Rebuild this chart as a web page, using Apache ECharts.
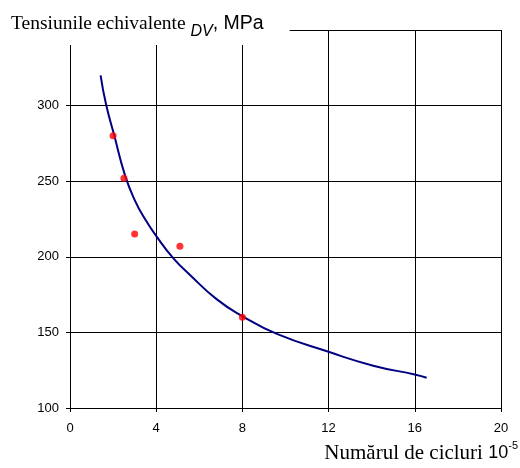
<!DOCTYPE html>
<html lang="ro">

<head>
	<meta charset="UTF-8">
	<title>tensiuni echivalente</title>
	<script src="https://cdn.jsdelivr.net/npm/echarts@6/dist/echarts.min.js"></script>
	<style>
		html, body {
			margin: 0;
			padding: 0;
			background: #fff;
		}

		#chart {
			width: 520px;
			height: 468px;
		}
	</style>
</head>

<body>
	<div id="chart"></div>
	<script>
		// puncte experimentale (numar cicluri x 10^5, tensiune MPa)
		var pointCycles = [2.0, 2.5, 3.0, 5.1, 8.0]
		var pointStress = [280, 252, 215, 207, 160]

		// curba de tendinta
		var curveCycles = [1.42, 1.67, 2.04, 2.55, 3.02, 3.48, 4.04, 4.8, 5.57, 6.8, 7.97, 9.6, 12.03, 14.07, 16.04, 16.55]
		var curveStress = [320, 301, 281, 254, 237, 225, 213, 199, 188, 172, 161, 149, 137, 128, 122, 120]

		var xTicks = [0, 4, 8, 12, 16, 20]
		var yTicks = [100, 150, 200, 250, 300]

		var sans = 'Liberation Sans'
		var serif = 'Liberation Serif'

		var chart = echarts.init(document.getElementById('chart'))

		var option = {
			animation: false,
			backgroundColor: '#fff',
			title: [
				{
					// titlul axei Y, cu fundal alb peste linia de sus
					text: '{a|Tensiunile echivalente }{b|DV}{c|, MPa}',
					left: 0,
					top: 6,
					padding: [4, 26, 5, 11],
					backgroundColor: '#fff',
					textStyle: {
						fontWeight: 'normal',
						rich: {
							a: { fontFamily: serif, fontSize: 19.5, fontWeight: 'normal', color: '#000', lineHeight: 28 },
							b: { fontFamily: sans, fontSize: 16, fontWeight: 'normal', fontStyle: 'italic', color: '#000', lineHeight: 16, verticalAlign: 'bottom', padding: [0, 0, -2, 0] },
							c: { fontFamily: sans, fontSize: 19.5, fontWeight: 'normal', color: '#000', lineHeight: 28 }
						}
					}
				},
				{
					// titlul axei X
					text: '{a|Numărul de cicluri }{b|10}{c|-5}',
					right: 2,
					top: 440,
					padding: 0,
					textStyle: {
						fontWeight: 'normal',
						rich: {
							a: { fontFamily: serif, fontSize: 21, fontWeight: 'normal', color: '#000', lineHeight: 26 },
							b: { fontFamily: sans, fontSize: 18, fontWeight: 'normal', color: '#000', lineHeight: 26 },
							c: { fontFamily: sans, fontSize: 11, fontWeight: 'normal', color: '#000', lineHeight: 11, verticalAlign: 'top' }
						}
					}
				}
			],
			grid: {
				left: 70,
				right: 19,
				top: 30,
				bottom: 60
			},
			xAxis: {
				type: 'value',
				min: xTicks[0],
				max: xTicks[xTicks.length - 1],
				interval: 4,
				axisLine: { lineStyle: { color: '#000', width: 1 } },
				axisTick: { show: true, length: 4, lineStyle: { color: '#000' } },
				axisLabel: {
					margin: 14,
					fontFamily: sans,
					fontSize: 13,
					color: '#000'
				},
				splitLine: { show: true, lineStyle: { color: '#000', width: 1 } }
			},
			yAxis: {
				type: 'value',
				min: 100,
				max: 350,
				interval: 50,
				axisLine: { show: true, lineStyle: { color: '#000', width: 1 } },
				axisTick: { show: true, length: 4, lineStyle: { color: '#000' } },
				axisLabel: {
					margin: 11,
					fontFamily: sans,
					fontSize: 13,
					color: '#000',
					formatter: function (v) {
						return yTicks.indexOf(v) >= 0 ? String(v) : ''
					}
				},
				splitLine: { show: true, lineStyle: { color: '#000', width: 1 } }
			},
			series: [
				{
					type: 'line',
					data: curveCycles.map(function (x, i) { return [x, curveStress[i]] }),
					smooth: true,
					showSymbol: false,
					lineStyle: { color: '#000080', width: 2 },
					z: 3
				},
				{
					type: 'scatter',
					data: pointCycles.map(function (x, i) { return [x, pointStress[i]] }),
					symbol: 'circle',
					symbolSize: 7,
					itemStyle: { color: '#ff0000' },
					z: 4
				}
			]
		}
		chart.setOption(option)
	</script>
</body>

</html>
